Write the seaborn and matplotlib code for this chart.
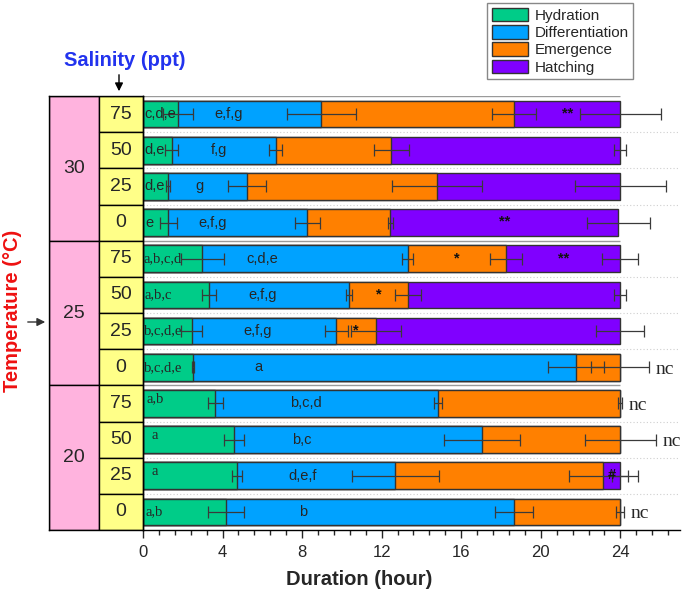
import numpy as np
import pandas as pd
import matplotlib
matplotlib.use('Agg')
import matplotlib.pyplot as plt
import seaborn as sns
from matplotlib.patches import Patch
from matplotlib.ticker import MultipleLocator, AutoMinorLocator

# temperatura (grupos) y salinidad (filas dentro de cada grupo)
temps = ['30', '25', '20']
salinities = ['75', '50', '25', '0']

# duración de cada etapa (horas), filas de arriba a abajo
hydration = [1.77, 1.44, 1.27, 1.27, 2.98, 3.33, 2.44, 2.53, 3.63, 4.58, 4.73, 4.17]
differentiation = [7.20, 5.24, 3.97, 7.00, 10.34, 7.03, 7.28, 19.24, 11.19, 12.47, 7.95, 14.50]
emergence = [9.70, 5.80, 9.54, 4.16, 4.94, 2.96, 1.98, 2.23, 9.18, 6.95, 10.46, 5.33]
hatching = [5.33, 11.52, 9.22, 11.47, 5.74, 10.68, 12.30, 0.0, 0.0, 0.0, 0.86, 0.0]

# desviaciones (horas)
hyd_err = [0.76, 0.33, 0.10, 0.42, 1.07, 0.35, 0.55, 0.05, 0.38, 0.51, 0.27, 0.90]
diff_err = [1.74, 0.33, 0.96, 0.62, 0.28, 0.15, 0.58, 1.40, 0.20, 1.92, 2.18, 0.96]
emer_err = [1.10, 0.88, 2.26, 0.12, 0.79, 0.64, 1.26, 1.45, 0.10, 1.80, 1.73, 0.20]
hatch_err = [2.05, 0.30, 2.28, 1.60, 0.90, 0.30, 1.20, 0.0, 0.0, 0.0, 0.40, 0.0]

# letras de significancia
hyd_letters = ['c,d,e', 'd,e', 'd,e', 'e', 'a,b,c,d', 'a,b,c', 'b,c,d,e', 'b,c,d,e',
               'a,b', 'a', 'a', 'a,b']
diff_letters = ['e,f,g', 'f,g', 'g', 'e,f,g', 'c,d,e', 'e,f,g', 'e,f,g', 'a',
                'b,c,d', 'b,c', 'd,e,f', 'b']
marks = [(0, 3, '**'), (3, 3, '**'), (4, 2, '*'), (4, 3, '**'), (5, 2, '*'),
         (6, 2, '*'), (10, 3, '#')]
nc_rows = [7, 8, 9, 11]

stages = ['Hydration', 'Differentiation', 'Emergence', 'Hatching']
colors = ['#00CC88', '#00A2FF', '#FF8000', '#8000FF']

rows = [f'{t}-{s}' for t in temps for s in salinities]
dur = np.array([hydration, differentiation, emergence, hatching])
cum = dur.cumsum(axis=0)
errs = np.array([hyd_err, diff_err, emer_err, hatch_err])
ypos = np.arange(len(rows))

df = pd.DataFrame({'row': rows})
for i, st in enumerate(stages):
    df[st] = cum[i]

sns.set_style('white')
plt.rcParams['font.family'] = ['Liberation Sans', 'DejaVu Sans']

fig = plt.figure(figsize=(6.85, 5.96), dpi=100)
ax = fig.add_axes([143/685, 66/596, 537/685, 434/596])

# barras apiladas: acumulados de mayor a menor
for st, c in zip(stages[::-1], colors[::-1]):
    sns.barplot(data=df, x=st, y='row', order=rows, color=c, saturation=1,
                width=0.74, edgecolor='#333333', linewidth=1, errorbar=None,
                orient='h', ax=ax)

for i in range(4):
    m = errs[i] > 0
    ax.errorbar(cum[i][m], ypos[m], xerr=errs[i][m], fmt='none', ecolor='#3a3a3a',
                elinewidth=0.9, capsize=4, capthick=0.9, zorder=5)

# lineas separadoras
ax.hlines([0.5, 1.5, 2.5, 4.5, 5.5, 6.5, 8.5, 9.5, 10.5], 0, 27,
          colors='#cfcfcf', linestyles=(0, (1, 2)), lw=0.8, zorder=0)
ax.hlines([-0.5, 3.5, 7.5], 0, 24, colors='#9a9a9a', lw=1, zorder=0)

# etiquetas
hyd_label_x = [0.05, 0.08, 0.08, 0.1, 0.05, 0.08, 0.05, 0.05, 0.2, 0.45, 0.45, 0.15]
hyd_label_dy = [0, 0, 0, 0, 0, 0, 0, 0, -0.12, -0.12, -0.12, 0]
diff_label_x = [4.3, 3.8, 2.83, 3.48, 6.0, 6.0, 5.76, 5.78, 8.2, 7.97, 8.05, 8.05]
for r in range(len(rows)):
    fam = ['Liberation Sans'] if r < 4 else ['Liberation Serif']
    ax.text(hyd_label_x[r], r + hyd_label_dy[r], hyd_letters[r], ha='left', va='center',
            fontsize=10.5, family=fam, zorder=6)
    ax.text(diff_label_x[r], r, diff_letters[r], ha='center', va='center',
            fontsize=10.5, zorder=6)
for r, s, t in marks:
    xc = cum[s][r] - dur[s][r] / 2
    ax.text(xc, r - 0.02, t, ha='center', va='center', fontsize=10.5, weight='bold',
            color='#111111', zorder=6)
for r in nc_rows:
    xe = cum[2][r] + max(errs[2][r], errs[1][r] - (cum[2][r] - cum[1][r]))
    ax.text(xe + 0.3, r + 0.05, 'nc', ha='left', va='center', fontsize=14,
            family=['Liberation Serif'])

ax.set_xlim(0, 27)
ax.set_ylim(11.5, -0.5)
ax.xaxis.set_major_locator(MultipleLocator(4))
ax.xaxis.set_minor_locator(AutoMinorLocator(5))
ax.set_xticks([0, 4, 8, 12, 16, 20, 24])
ax.set_yticks([])
ax.set_ylabel('')
ax.tick_params(axis='x', which='major', direction='out', length=6, width=1,
               labelsize=12, pad=5, bottom=True)
ax.tick_params(axis='x', which='minor', direction='out', length=3.5, width=1, bottom=True)
for sp in ['top', 'right']:
    ax.spines[sp].set_visible(False)
for sp in ['left', 'bottom']:
    ax.spines[sp].set_color('black')
    ax.spines[sp].set_linewidth(1)
ax.set_xlabel('Duration (hour)', fontsize=14.5, weight='bold')
ax.xaxis.set_label_coords(0.402, -0.092)

# panel izquierdo: temperatura y salinidad
axl = fig.add_axes([49/685, 66/596, 94/685, 434/596])
axl.barh([1.5, 5.5, 9.5], 0.532, height=4, left=0, color='#FFB3DE',
         edgecolor='black', lw=1)
axl.barh(ypos, 0.468, height=1, left=0.532, color='#FFFF88', edgecolor='black', lw=1)
for g, t in enumerate(temps):
    axl.text(0.266, g * 4 + 1.5, t, ha='center', va='center', fontsize=14)
for r in ypos:
    axl.text(0.766, r, salinities[r % 4], ha='center', va='center', fontsize=14)
axl.set_xlim(0, 1)
axl.set_ylim(11.5, -0.5)
axl.set_xticks([])
axl.set_yticks([])
for sp in axl.spines.values():
    sp.set_color('black')
    sp.set_linewidth(1)

fig.text(125/685, 1 - 60/596, 'Salinity (ppt)', color='#2233EE', fontsize=14.5,
         weight='bold', ha='center', va='center')
fig.text(13/685, 1 - 311/596, 'Temperature (°C)', color='#EE1111', fontsize=14.5,
         weight='bold', ha='center', va='center', rotation=90)
ax.annotate('', xy=(119, 596 - 94), xycoords='figure pixels', xytext=(119, 596 - 72),
            textcoords='figure pixels',
            arrowprops=dict(arrowstyle='-|>', color='black', lw=1, mutation_scale=12))
ax.annotate('', xy=(48, 596 - 322), xycoords='figure pixels', xytext=(25, 596 - 322),
            textcoords='figure pixels',
            arrowprops=dict(arrowstyle='-|>', color='#333333', lw=1, mutation_scale=12))

handles = [Patch(facecolor=c, edgecolor='#333333', label=s) for s, c in zip(stages, colors)]
fig.legend(handles=handles, loc='upper left', bbox_to_anchor=(487/685, 1 - 3/596),
           fontsize=11, frameon=True, edgecolor='#888888', fancybox=False, framealpha=1,
           handlelength=2.4, handleheight=1.0, labelspacing=0.15, borderpad=0.3,
           handletextpad=0.4, borderaxespad=0)

fig.savefig('out.png', dpi=100)
